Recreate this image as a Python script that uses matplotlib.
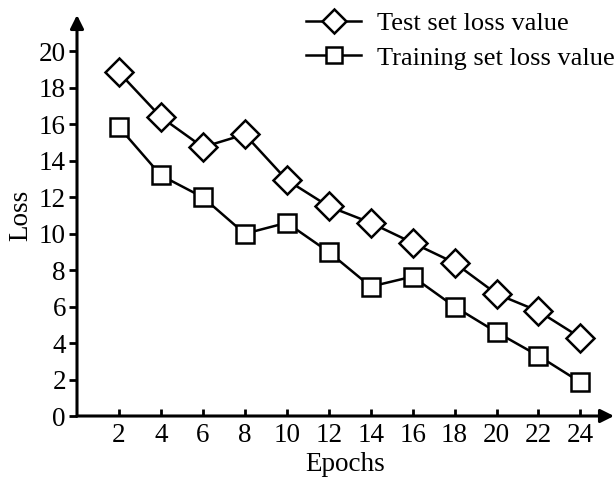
import matplotlib.pyplot as plt

plt.rcParams['font.family'] = ['Liberation Serif', 'DejaVu Serif']

# values
epochs = [2, 4, 6, 8, 10, 12, 14, 16, 18, 20, 22, 24]
test_loss = [18.85, 16.4, 14.75, 15.45, 12.95, 11.5, 10.6, 9.5, 8.4, 6.7, 5.75, 4.3]
train_loss = [15.85, 13.2, 12.0, 10.0, 10.6, 9.0, 7.1, 7.65, 6.0, 4.6, 3.3, 1.85]
y_ticks = [0, 2, 4, 6, 8, 10, 12, 14, 16, 18, 20]

fig = plt.figure(figsize=(6.14, 4.79), dpi=100)
ax = fig.add_axes([77 / 614, 63 / 479, 537 / 614, 401 / 479])

ax.plot(epochs, test_loss, color='k', lw=1.8, marker='D', ms=14,
        mfc='white', mec='k', mew=1.8, label='Test set loss value')
ax.plot(epochs, train_loss, color='k', lw=1.8, marker='s', ms=13,
        mfc='white', mec='k', mew=1.8, label='Training set loss value')

ax.set_xlim(0, 25.6)
ax.set_ylim(0, 22)
ax.set_xticks(epochs)
ax.set_yticks(y_ticks)

# axes with arrow heads instead of spines
for s in ax.spines.values():
    s.set_visible(False)
arrow = dict(arrowstyle='-|>', lw=2.2, color='k', mutation_scale=20,
             shrinkA=0, shrinkB=0)
ax.annotate('', xy=(0, 1), xytext=(0, 0), xycoords='axes fraction', arrowprops=arrow)
ax.annotate('', xy=(1, 0), xytext=(0, 0), xycoords='axes fraction', arrowprops=arrow)

ax.tick_params(axis='y', direction='out', length=6, width=2, labelsize=19.5, pad=2)
ax.tick_params(axis='x', direction='in', length=5, width=2, labelsize=19.5, pad=5)
ax.set_xlabel('Epochs', fontsize=19.5, labelpad=3)
ax.set_ylabel('Loss', fontsize=19.5, labelpad=4)

leg = ax.legend(loc='upper left', bbox_to_anchor=(306 / 614, 1 - 12 / 479),
                bbox_transform=fig.transFigure, frameon=False, fontsize=19,
                borderpad=0, borderaxespad=0, handlelength=2.1, markerscale=0.85,
                handletextpad=0.6, labelspacing=0.4)

fig.savefig('out.png', dpi=100)
